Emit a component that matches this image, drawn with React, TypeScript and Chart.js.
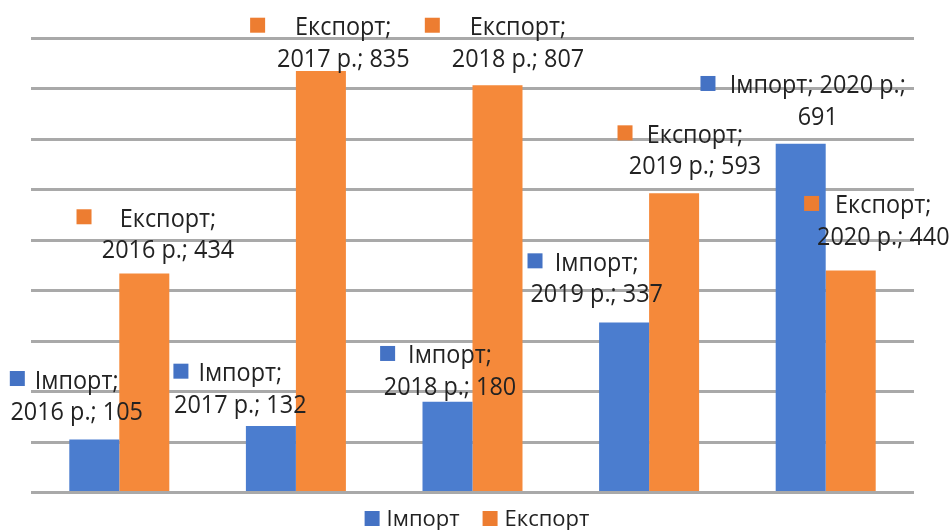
import React, { useEffect, useRef } from "react";
import { Chart, registerables } from "chart.js";

Chart.register(...registerables);

// ---- data ----
const YEARS: string[] = ["2016 р.", "2017 р.", "2018 р.", "2019 р.", "2020 р."];
const SERIES_NAMES: string[] = ["Імпорт", "Експорт"];
const IMPORT_VALUES: number[] = [105, 132, 180, 337, 691];
const EXPORT_VALUES: number[] = [434, 835, 807, 593, 440];
const Y_MIN = 0;
const Y_MAX = 900;
const Y_STEP = 100;

// ---- label layout (Excel-style data labels, manually nudged) ----
// [dx from bar centre, dy of 2nd-line baseline from bar top, gap key->text]
const IMPORT_LABEL_LAYOUT: number[][] = [
  [-17.6, -19.5, 10],
  [-30.6, -13.2, 10],
  [2.5, -6.7, 13],
  [-27.4, -20.1, 12.3],
  [17.1, -18.8, 14.3],
];
const EXPORT_LABEL_LAYOUT: number[][] = [
  [23.7, -15.2, 28.3],
  [22.4, -4.4, 30],
  [20.5, -18.5, 30],
  [20.9, -18.9, 14.3],
  [32.6, -25.5, 16],
];
// how many "; "-separated parts go onto the first line
const IMPORT_LABEL_BREAK: number[] = [1, 1, 1, 1, 2];
const EXPORT_LABEL_BREAK: number[] = [1, 1, 1, 1, 1];

const BAR_COLORS = ["#4b7dcf", "#f5893a"];
const KEY_COLORS = ["#4472c4", "#ed7d31"];
const TEXT_COLOR = "#222222";
const FONT_FAMILY = "'Open Sans', 'DejaVu Sans', sans-serif";

const labelPlugin = {
  id: "excelLabels",
  afterDatasetsDraw(chart: any) {
    const ctx = chart.ctx as CanvasRenderingContext2D;
    const layouts = [IMPORT_LABEL_LAYOUT, EXPORT_LABEL_LAYOUT];
    const breaks = [IMPORT_LABEL_BREAK, EXPORT_LABEL_BREAK];
    const lineGap = 31.5;
    const sx = 0.9;
    ctx.save();
    ctx.font = `26px ${FONT_FAMILY}`;
    ctx.fillStyle = TEXT_COLOR;
    ctx.textBaseline = "alphabetic";
    ctx.textAlign = "center";
    chart.data.datasets.forEach((ds: any, di: number) => {
      const meta = chart.getDatasetMeta(di);
      meta.data.forEach((el: any, j: number) => {
        const parts = [SERIES_NAMES[di], chart.data.labels[j], String(ds.data[j])];
        const b = breaks[di][j];
        const line1 = parts.slice(0, b).join("; ") + ";";
        const line2 = parts.slice(b).join("; ");
        const [dx, dy, gap] = layouts[di][j];
        const cx = el.x + dx;
        const base2 = el.y + dy;
        const base1 = base2 - lineGap;
        const w1 = ctx.measureText(line1).width * sx;
        ctx.fillStyle = TEXT_COLOR;
        ctx.save();
        ctx.translate(cx, base1);
        ctx.scale(sx, 1);
        ctx.fillText(line1, 0, 0);
        ctx.restore();
        ctx.save();
        ctx.translate(cx, base2);
        ctx.scale(sx, 1);
        ctx.fillText(line2, 0, 0);
        ctx.restore();
        const left = cx - w1 / 2;
        ctx.fillStyle = KEY_COLORS[di];
        ctx.fillRect(left - gap - 15, base1 - 17.5, 15, 15);
      });
    });
    ctx.restore();
  },
};

const legendPlugin = {
  id: "bottomLegend",
  afterDraw(chart: any) {
    const ctx = chart.ctx as CanvasRenderingContext2D;
    ctx.save();
    ctx.font = `22px ${FONT_FAMILY}`;
    ctx.textBaseline = "alphabetic";
    ctx.textAlign = "left";
    const keySize = 15;
    const keyGap = 7;
    const itemGap = 23;
    const names = chart.data.datasets.map((d: any) => d.label);
    const widths = names.map((n: string) => keySize + keyGap + ctx.measureText(n).width);
    const total = widths.reduce((a: number, b: number) => a + b, 0) + itemGap * (names.length - 1);
    let x = chart.width / 2 + 2 - total / 2;
    const baseline = 526;
    names.forEach((n: string, i: number) => {
      ctx.fillStyle = KEY_COLORS[i];
      ctx.fillRect(x, baseline - 15, keySize, keySize);
      ctx.fillStyle = TEXT_COLOR;
      ctx.fillText(n, x + keySize + keyGap, baseline);
      x += widths[i] + itemGap;
    });
    ctx.restore();
  },
};

export default function App() {
  const ref = useRef<HTMLCanvasElement | null>(null);
  useEffect(() => {
    if (!ref.current) return;
    const chart = new Chart(ref.current, {
      type: "bar",
      data: {
        labels: YEARS,
        datasets: [
          {
            label: SERIES_NAMES[0],
            data: IMPORT_VALUES,
            backgroundColor: BAR_COLORS[0],
            borderWidth: 0,
          },
          {
            label: SERIES_NAMES[1],
            data: EXPORT_VALUES,
            backgroundColor: BAR_COLORS[1],
            borderWidth: 0,
          },
        ],
      },
      options: {
        responsive: false,
        animation: false,
        devicePixelRatio: 1,
        layout: { padding: { left: 31, right: 36, top: 38.3, bottom: 37.5 } },
        datasets: {
          bar: { categoryPercentage: 0.5663, barPercentage: 1 },
        },
        plugins: {
          legend: { display: false },
          tooltip: { enabled: false },
          title: { display: false },
        },
        scales: {
          x: { display: false },
          y: {
            min: Y_MIN,
            max: Y_MAX,
            ticks: { display: false, stepSize: Y_STEP },
            border: { display: false },
            grid: { color: "#a9a9a9", lineWidth: 3, drawTicks: false },
            afterFit: (s: any) => {
              s.width = 0;
            },
          },
        },
      },
      plugins: [labelPlugin, legendPlugin],
    });
    return () => chart.destroy();
  }, []);
  return (
    <div style={{ position: "fixed", left: 0, top: 0, width: 950, height: 530, background: "#fff" }}>
      <canvas ref={ref} width={950} height={530} style={{ display: "block" }} />
    </div>
  );
}
